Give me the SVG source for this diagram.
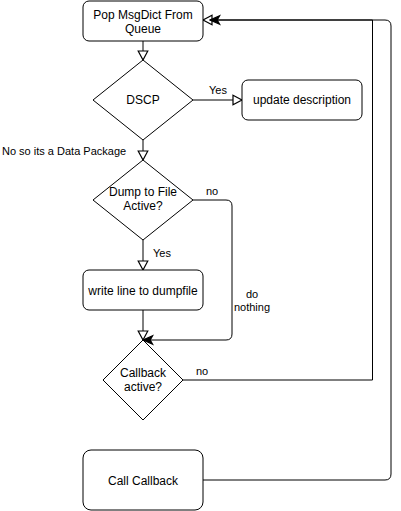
<svg xmlns="http://www.w3.org/2000/svg" width="401" height="511" viewBox="0 0 401 511">
<defs>
<style>
.n{fill:#fff;stroke:#000;stroke-width:1}
.t{font-family:"Liberation Sans",Arial,sans-serif;font-size:12px;fill:#000;text-anchor:middle}
.l{font-family:"Liberation Sans",Arial,sans-serif;font-size:11px;fill:#000;text-anchor:middle}
.e{fill:none;stroke:#000;stroke-width:1}
</style>
<marker id="open" markerUnits="userSpaceOnUse" markerWidth="12" markerHeight="12" viewBox="0 0 10 10" refX="8.5" refY="5" orient="auto">
<path d="M1,1 L8.5,5 L1,9 Z" fill="#fff" stroke="#000" stroke-width="1"/>
</marker>
<marker id="classic" markerUnits="userSpaceOnUse" markerWidth="12" markerHeight="12" viewBox="0 0 10 10" refX="9" refY="5" orient="auto">
<path d="M1,1.5 L9,5 L1,8.5 L3,5 Z" fill="#000" stroke="#000" stroke-width="1"/>
</marker>
</defs>
<rect width="401" height="511" fill="#fff"/>

<g id="connectors">
<path class="e" d="M143,41 V60" marker-end="url(#open)"/>
<path class="e" d="M193,100 H242" marker-end="url(#open)"/>
<path class="e" d="M143,140 V160" marker-end="url(#open)"/>
<path class="e" d="M143,240 V270" marker-end="url(#open)"/>
<path class="e" d="M193,200 H226 Q232,200 232,206 V334 Q232,340 226,340 H143" marker-end="url(#classic)"/>
<path class="e" d="M143,310 V340" marker-end="url(#open)"/>
<path class="e" d="M183,380 H372.5 V20 H203" marker-end="url(#open)"/>
<path class="e" d="M203,480 H385 Q391,480 391,474 V26 Q391,20 385,20 H210" marker-end="url(#classic)"/>
<text class="l" x="218" y="94">Yes</text>
<text class="l" x="2" y="155" style="text-anchor:start">No so its a Data Package</text>
<text class="l" x="212" y="195">no</text>
<text class="l" x="162" y="257">Yes</text>
<text class="l" x="252" y="298">do</text>
<text class="l" x="252" y="311">nothing</text>
<text class="l" x="202" y="375">no</text>
</g>

<g id="pop">
<rect class="n" x="83" y="1" width="120" height="40" rx="6"/>
<text class="t" x="143" y="19">Pop MsgDict From</text>
<text class="t" x="143" y="33">Queue</text>
</g>
<g id="dscp">
<path class="n" d="M143,60 L193,100 L143,140 L93,100 Z"/>
<text class="t" x="143" y="104">DSCP</text>
</g>
<g id="update">
<rect class="n" x="242" y="80" width="120" height="40" rx="6"/>
<text class="t" x="302" y="104">update description</text>
</g>
<g id="dump">
<path class="n" d="M143,160 L193,200 L143,240 L93,200 Z"/>
<text class="t" x="143" y="196">Dump to File</text>
<text class="t" x="143" y="210">Active?</text>
</g>
<g id="write">
<rect class="n" x="83" y="270" width="120" height="40" rx="6"/>
<text class="t" x="143" y="295">write line to dumpfile</text>
</g>
<g id="callbackActive">
<path class="n" d="M143,340 L183,380 L143,420 L103,380 Z"/>
<text class="t" x="143" y="377">Callback</text>
<text class="t" x="143" y="391">active?</text>
</g>
<g id="callCallback">
<rect class="n" x="83" y="450" width="120" height="60" rx="8"/>
<text class="t" x="143" y="485">Call Callback</text>
</g>
</svg>
